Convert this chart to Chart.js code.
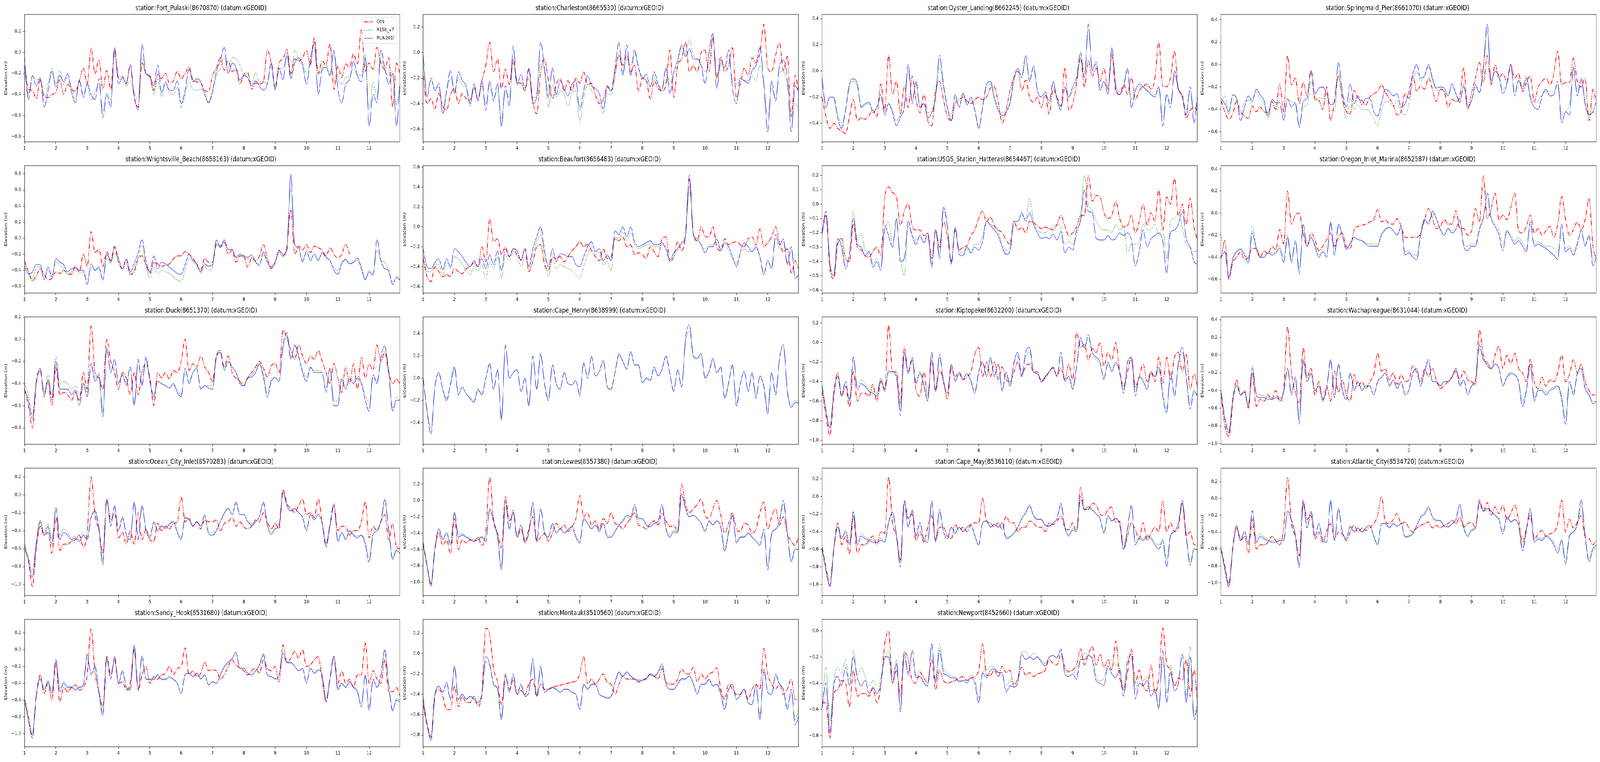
<!DOCTYPE html>
<html>
<head>
<meta charset="utf-8">
<title>Station elevation comparison</title>
<script src="https://cdn.jsdelivr.net/npm/chart.js@4.4.1/dist/chart.umd.min.js"></script>
<style>
  html, body { margin: 0; padding: 0; background: #fff; overflow: hidden; }
  #sheet { position: absolute; left: 0; top: 0; width: 5150px; height: 1950px; transform-origin: 0 0; }
  #sheet canvas { position: absolute; }
</style>
</head>
<body>
<div id="sheet"></div>
<script>
// sample times, 8 per unit plus the right edge, shared by every station
const dayGrid = [1,1.125,1.25,1.375,1.5,1.625,1.75,1.875, 2,2.125,2.25,2.375,2.5,2.625,2.75,2.875, 3,3.125,3.25,3.375,3.5,3.625,3.75,3.875, 4,4.125,4.25,4.375,4.5,4.625,4.75,4.875, 5,5.125,5.25,5.375,5.5,5.625,5.75,5.875, 6,6.125,6.25,6.375,6.5,6.625,6.75,6.875, 7,7.125,7.25,7.375,7.5,7.625,7.75,7.875, 8,8.125,8.25,8.375,8.5,8.625,8.75,8.875, 9,9.125,9.25,9.375,9.5,9.625,9.75,9.875, 10,10.125,10.25,10.375,10.5,10.625,10.75,10.875, 11,11.125,11.25,11.375,11.5,11.625,11.75,11.875, 12,12.125,12.25,12.375,12.5,12.625,12.75,12.875, 12.98];
const xTicks = [1,2,3,4,5,6,7,8,9,10,11,12];

// Fort_Pulaski
const fortPulaskiObs = [-0.13,-0.35,-0.36,-0.44,-0.26,-0.41,-0.43,-0.40,-0.38,-0.26,-0.40,-0.30,-0.35,-0.37,-0.27,-0.15,-0.30,0.04,-0.20,-0.07,-0.35,-0.17,-0.35,0.02,-0.24,-0.23,-0.30,-0.12,-0.42,-0.52,-0.10,-0.20,-0.23,-0.36,-0.21,-0.25,-0.20,-0.29,-0.27,-0.18,-0.25,-0.20,-0.14,-0.26,-0.28,-0.29,-0.36,-0.37,-0.22,-0.15,-0.05,-0.17,-0.08,-0.18,-0.16,-0.30,-0.21,-0.19,-0.35,-0.29,-0.30,-0.28,0.02,-0.10,-0.33,-0.10,-0.06,0.03,-0.20,-0.06,-0.08,-0.05,0.02,-0.12,0.14,-0.20,-0.08,-0.12,0.08,-0.35,-0.13,-0.24,-0.11,-0.14,-0.01,-0.11,0.22,-0.18,-0.10,-0.16,0.05,-0.10,-0.16,-0.05,-0.52,-0.10,-0.20];
const fortPulaskiR15b = [-0.18,-0.40,-0.22,-0.26,-0.26,-0.45,-0.30,-0.15,-0.30,-0.17,-0.30,-0.24,-0.33,-0.45,-0.28,-0.40,-0.30,-0.45,-0.38,-0.30,-0.55,-0.38,-0.45,-0.02,-0.25,-0.26,-0.32,-0.27,-0.38,-0.45,-0.05,-0.20,-0.24,-0.40,-0.25,-0.42,-0.30,-0.38,-0.40,-0.33,-0.53,-0.40,-0.28,-0.35,-0.36,-0.35,-0.38,-0.47,-0.35,-0.23,-0.15,-0.05,-0.15,-0.05,-0.06,-0.12,-0.22,-0.20,-0.30,-0.19,-0.28,-0.28,-0.30,-0.10,-0.33,-0.16,-0.15,-0.05,-0.22,0.02,-0.06,-0.10,-0.20,-0.10,0.08,-0.22,-0.14,-0.10,-0.22,0.00,-0.25,-0.30,-0.24,-0.23,-0.15,-0.22,-0.22,-0.02,-0.55,-0.28,-0.42,-0.05,-0.17,-0.22,-0.18,-0.50,-0.30];
const fortPulaskiRun201 = [-0.05,-0.45,-0.22,-0.32,-0.24,-0.52,-0.37,-0.18,-0.33,-0.22,-0.28,-0.20,-0.38,-0.48,-0.26,-0.43,-0.30,-0.40,-0.45,-0.25,-0.62,-0.40,-0.52,0.05,-0.30,-0.24,-0.29,-0.12,-0.42,-0.55,0.08,-0.20,-0.22,-0.32,-0.12,-0.38,-0.28,-0.36,-0.36,-0.27,-0.49,-0.36,-0.16,-0.28,-0.25,-0.28,-0.40,-0.48,-0.38,-0.18,-0.08,0.05,-0.20,-0.10,-0.14,-0.26,-0.22,-0.24,-0.32,-0.27,-0.32,-0.36,-0.30,-0.10,-0.36,-0.15,-0.26,0.00,-0.25,-0.10,-0.05,-0.12,-0.30,-0.06,0.10,-0.40,-0.16,-0.14,-0.22,0.02,-0.35,-0.48,-0.30,-0.26,-0.08,-0.22,-0.28,-0.05,-0.70,-0.40,-0.48,0.02,-0.15,-0.30,-0.20,-0.70,-0.32];

// Charleston
const charlestonObs = [-0.18,-0.40,-0.36,-0.44,-0.32,-0.42,-0.45,-0.33,-0.28,-0.40,-0.32,-0.36,-0.37,-0.27,-0.37,-0.22,-0.10,0.08,-0.15,-0.05,-0.28,-0.13,-0.25,-0.05,-0.23,-0.24,-0.30,-0.13,-0.38,-0.48,-0.15,-0.05,-0.22,-0.36,-0.25,-0.20,-0.30,-0.22,-0.30,-0.20,-0.24,-0.15,-0.25,-0.24,-0.33,-0.40,-0.37,-0.26,-0.30,-0.15,-0.02,-0.10,-0.02,-0.15,-0.10,-0.30,-0.20,-0.22,-0.36,-0.22,-0.28,-0.30,-0.25,0.02,-0.35,-0.10,-0.05,0.08,-0.15,-0.10,-0.15,0.00,0.02,-0.15,0.12,-0.20,-0.03,-0.15,-0.10,0.04,-0.35,-0.25,-0.12,-0.18,-0.04,-0.08,0.00,0.22,-0.12,-0.15,-0.02,0.08,-0.14,-0.03,-0.50,-0.18,-0.30];
const charlestonR15b = [-0.10,-0.30,-0.22,-0.28,-0.27,-0.42,-0.30,-0.20,-0.30,-0.20,-0.26,-0.28,-0.42,-0.28,-0.36,-0.26,-0.40,-0.25,-0.35,-0.30,-0.52,-0.30,-0.35,-0.08,-0.25,-0.22,-0.30,-0.20,-0.35,-0.35,-0.05,-0.15,-0.43,-0.25,-0.35,-0.30,-0.33,-0.42,-0.32,-0.30,-0.55,-0.36,-0.25,-0.30,-0.35,-0.38,-0.48,-0.32,-0.33,-0.20,-0.02,-0.15,-0.05,-0.10,0.00,-0.12,-0.20,-0.22,-0.26,-0.20,-0.25,-0.28,-0.12,-0.25,-0.15,-0.10,0.05,0.00,0.10,-0.02,-0.05,-0.10,-0.15,-0.05,0.10,-0.20,-0.10,-0.12,-0.05,-0.22,-0.25,-0.20,-0.22,-0.22,-0.18,-0.22,-0.10,-0.25,-0.50,-0.28,-0.36,-0.15,-0.15,-0.25,-0.50,-0.40,-0.45];
const charlestonRun201 = [-0.02,-0.35,-0.20,-0.30,-0.24,-0.48,-0.30,-0.14,-0.32,-0.15,-0.22,-0.26,-0.40,-0.24,-0.38,-0.22,-0.45,-0.22,-0.38,-0.24,-0.58,-0.26,-0.42,0.05,-0.25,-0.17,-0.28,-0.12,-0.40,-0.34,0.08,-0.12,-0.35,-0.12,-0.33,-0.22,-0.28,-0.34,-0.25,-0.22,-0.45,-0.30,-0.18,-0.26,-0.28,-0.32,-0.44,-0.27,-0.30,-0.12,0.08,-0.18,0.06,-0.18,0.02,-0.12,-0.20,-0.17,-0.27,-0.15,-0.25,-0.30,-0.12,-0.32,-0.16,-0.06,0.06,-0.03,0.03,-0.05,-0.05,-0.10,-0.24,0.00,0.15,-0.28,-0.06,-0.12,0.02,-0.28,-0.40,-0.20,-0.22,-0.24,-0.14,-0.10,0.04,-0.25,-0.62,-0.22,-0.38,-0.10,-0.06,-0.20,-0.62,-0.26,-0.30];

// Oyster_Landing
const oysterLandingObs = [-0.20,-0.35,-0.44,-0.40,-0.44,-0.46,-0.48,-0.35,-0.22,-0.38,-0.36,-0.37,-0.34,-0.30,-0.35,-0.10,-0.30,0.12,-0.18,-0.08,-0.33,-0.12,-0.28,-0.04,-0.22,-0.32,-0.18,-0.38,-0.42,-0.15,-0.08,-0.22,-0.35,-0.38,-0.25,-0.22,-0.20,-0.23,-0.25,-0.22,-0.20,-0.22,-0.20,-0.13,-0.12,-0.24,-0.40,-0.30,-0.15,-0.05,0.00,-0.15,-0.07,-0.20,-0.24,-0.20,-0.28,-0.18,-0.33,-0.14,-0.20,-0.27,0.02,-0.30,-0.25,-0.10,0.10,-0.12,0.08,-0.04,0.02,-0.08,0.02,-0.14,0.12,-0.15,-0.18,-0.10,-0.18,-0.05,-0.22,-0.15,-0.12,-0.10,-0.14,-0.06,0.22,-0.12,-0.12,-0.05,0.15,-0.14,-0.18,-0.36,-0.30,-0.28,-0.30];
const oysterLandingR15b = [-0.10,-0.25,-0.20,-0.22,-0.33,-0.40,-0.30,-0.12,-0.08,-0.12,-0.27,-0.26,-0.25,-0.30,-0.28,-0.20,-0.32,-0.25,-0.30,-0.38,-0.33,-0.28,0.00,-0.22,-0.10,-0.27,-0.25,-0.32,-0.30,-0.20,0.05,-0.12,-0.28,-0.33,-0.20,-0.27,-0.18,-0.26,-0.22,-0.30,-0.42,-0.28,-0.12,-0.10,-0.22,-0.30,-0.32,-0.30,-0.25,-0.08,0.00,-0.05,0.08,-0.06,0.02,-0.15,-0.20,-0.16,-0.23,-0.10,-0.22,-0.28,-0.14,-0.20,-0.15,-0.08,0.10,-0.05,0.32,0.02,0.05,-0.12,-0.08,-0.15,0.14,-0.10,-0.16,-0.12,0.00,-0.22,-0.15,-0.12,-0.13,-0.15,-0.16,-0.18,-0.12,-0.35,-0.18,-0.25,-0.03,-0.15,-0.20,-0.30,-0.15,-0.32,-0.22];
const oysterLandingRun201 = [-0.05,-0.28,-0.20,-0.20,-0.36,-0.44,-0.30,-0.10,-0.06,-0.10,-0.28,-0.25,-0.24,-0.32,-0.28,-0.18,-0.34,-0.25,-0.32,-0.42,-0.35,-0.28,0.05,-0.25,-0.08,-0.28,-0.25,-0.36,-0.32,-0.20,0.12,-0.10,-0.28,-0.38,-0.18,-0.28,-0.17,-0.26,-0.20,-0.30,-0.44,-0.28,-0.10,-0.08,-0.20,-0.30,-0.34,-0.32,-0.24,-0.05,0.02,-0.05,0.12,-0.08,0.04,-0.15,-0.20,-0.16,-0.25,-0.08,-0.22,-0.30,-0.12,-0.20,-0.12,-0.05,0.14,-0.05,0.36,0.00,0.07,-0.15,-0.08,-0.18,0.18,-0.12,-0.18,-0.12,0.02,-0.28,-0.15,-0.10,-0.12,-0.15,-0.18,-0.20,-0.12,-0.42,-0.18,-0.28,0.00,-0.14,-0.20,-0.34,-0.12,-0.40,-0.20];

// Springmaid_Pier
const springmaidObs = [-0.32,-0.42,-0.49,-0.44,-0.33,-0.42,-0.46,-0.48,-0.37,-0.42,-0.38,-0.42,-0.43,-0.33,-0.40,-0.17,-0.42,0.08,-0.18,-0.12,-0.35,-0.16,-0.28,-0.06,-0.30,-0.32,-0.40,-0.20,-0.50,-0.32,-0.10,-0.30,-0.42,-0.44,-0.23,-0.30,-0.32,-0.36,-0.29,-0.26,-0.24,-0.18,-0.25,-0.30,-0.36,-0.45,-0.42,-0.26,-0.30,-0.10,-0.24,-0.19,-0.22,-0.12,-0.22,-0.33,-0.22,-0.24,-0.38,-0.31,-0.33,-0.28,-0.03,-0.40,-0.25,-0.12,0.02,-0.16,0.08,-0.18,0.00,-0.12,-0.08,-0.15,0.00,-0.12,-0.08,-0.24,-0.16,-0.10,-0.33,-0.20,-0.15,-0.12,-0.18,-0.08,0.12,-0.18,-0.16,-0.16,0.06,-0.15,-0.20,-0.12,-0.50,-0.22,-0.33];
const springmaidR15b = [-0.35,-0.28,-0.45,-0.27,-0.32,-0.45,-0.33,-0.32,-0.30,-0.25,-0.31,-0.35,-0.48,-0.36,-0.40,-0.38,-0.45,-0.32,-0.33,-0.36,-0.54,-0.38,-0.36,-0.15,-0.32,-0.30,-0.30,-0.32,-0.40,-0.42,-0.08,-0.30,-0.48,-0.30,-0.40,-0.36,-0.40,-0.40,-0.42,-0.48,-0.55,-0.40,-0.33,-0.33,-0.38,-0.32,-0.42,-0.45,-0.35,-0.15,-0.06,-0.15,-0.10,-0.02,-0.14,-0.23,-0.23,-0.24,-0.28,-0.20,-0.26,-0.32,-0.20,-0.36,-0.32,-0.20,-0.25,-0.05,0.30,-0.15,-0.06,-0.12,-0.22,-0.16,-0.02,-0.24,-0.14,-0.20,-0.10,-0.28,-0.34,-0.32,-0.27,-0.24,-0.24,-0.24,-0.18,-0.45,-0.42,-0.35,-0.08,-0.25,-0.14,-0.32,-0.45,-0.42,-0.45];
const springmaidRun201 = [-0.30,-0.35,-0.42,-0.27,-0.30,-0.50,-0.38,-0.28,-0.33,-0.22,-0.27,-0.32,-0.46,-0.31,-0.34,-0.34,-0.50,-0.30,-0.38,-0.34,-0.56,-0.33,-0.30,-0.05,-0.26,-0.21,-0.20,-0.26,-0.36,-0.33,0.02,-0.24,-0.38,-0.17,-0.35,-0.28,-0.36,-0.30,-0.30,-0.42,-0.46,-0.34,-0.22,-0.24,-0.28,-0.26,-0.38,-0.35,-0.24,-0.08,0.00,-0.12,-0.10,0.00,-0.12,-0.21,-0.20,-0.21,-0.28,-0.17,-0.26,-0.34,-0.18,-0.38,-0.32,-0.18,-0.25,-0.02,0.36,-0.15,-0.06,-0.10,-0.26,-0.18,0.00,-0.28,-0.14,-0.22,-0.12,-0.30,-0.38,-0.40,-0.28,-0.22,-0.28,-0.27,-0.15,-0.52,-0.42,-0.45,-0.02,-0.28,-0.12,-0.36,-0.45,-0.42,-0.33];

// Wrightsville_Beach (observations stop after day 11.4)
const wrightsvilleObs = [-0.28,-0.42,-0.53,-0.47,-0.38,-0.45,-0.52,-0.50,-0.42,-0.44,-0.40,-0.44,-0.45,-0.35,-0.42,-0.20,-0.35,0.08,-0.18,-0.14,-0.35,-0.17,-0.28,-0.10,-0.30,-0.38,-0.26,-0.45,-0.42,-0.25,-0.22,-0.33,-0.44,-0.30,-0.32,-0.35,-0.34,-0.32,-0.26,-0.22,-0.22,-0.17,-0.20,-0.25,-0.33,-0.40,-0.25,-0.30,-0.30,-0.08,-0.10,-0.05,-0.20,-0.15,-0.30,-0.22,-0.23,-0.36,-0.25,-0.28,-0.22,-0.08,-0.25,-0.38,-0.30,-0.15,-0.22,-0.10,0.35,-0.20,-0.10,-0.15,-0.08,-0.18,-0.10,-0.12,-0.15,-0.22,-0.12,-0.20,-0.25,-0.20,-0.08,-0.20,null,null,null,null,null,null,null,null,null,null,null,null,null];
const wrightsvilleR15b = [-0.32,-0.42,-0.50,-0.36,-0.36,-0.50,-0.40,-0.48,-0.30,-0.34,-0.38,-0.45,-0.42,-0.40,-0.44,-0.42,-0.52,-0.36,-0.40,-0.38,-0.52,-0.25,-0.32,-0.18,-0.30,-0.40,-0.32,-0.45,-0.38,-0.24,-0.08,-0.34,-0.50,-0.36,-0.45,-0.40,-0.42,-0.44,-0.48,-0.52,-0.54,-0.40,-0.25,-0.30,-0.35,-0.44,-0.36,-0.40,-0.36,-0.06,-0.12,-0.04,-0.14,-0.14,-0.24,-0.22,-0.24,-0.26,-0.24,-0.30,-0.32,-0.20,-0.30,-0.36,-0.30,-0.18,-0.24,-0.12,0.62,-0.08,-0.12,-0.28,-0.18,-0.25,-0.20,-0.26,-0.20,-0.24,-0.28,-0.36,-0.40,-0.30,-0.28,-0.32,-0.30,-0.28,-0.35,-0.50,-0.40,-0.45,-0.15,-0.28,-0.30,-0.42,-0.55,-0.50,-0.52];
const wrightsvilleRun201 = [-0.35,-0.45,-0.42,-0.33,-0.33,-0.52,-0.36,-0.48,-0.25,-0.30,-0.33,-0.42,-0.38,-0.37,-0.40,-0.40,-0.58,-0.32,-0.40,-0.36,-0.52,-0.20,-0.30,-0.12,-0.25,-0.38,-0.26,-0.42,-0.32,-0.18,-0.02,-0.28,-0.42,-0.22,-0.38,-0.30,-0.32,-0.36,-0.40,-0.44,-0.45,-0.33,-0.20,-0.28,-0.32,-0.42,-0.32,-0.35,-0.33,-0.02,-0.12,-0.02,-0.14,-0.14,-0.24,-0.20,-0.22,-0.24,-0.21,-0.30,-0.34,-0.17,-0.30,-0.36,-0.30,-0.16,-0.20,-0.15,0.80,-0.08,-0.12,-0.30,-0.16,-0.28,-0.20,-0.28,-0.18,-0.24,-0.28,-0.40,-0.45,-0.32,-0.26,-0.32,-0.30,-0.25,-0.38,-0.52,-0.42,-0.46,-0.02,-0.28,-0.38,-0.40,-0.58,-0.48,-0.52];

// Beaufort
const beaufortObs = [-0.32,-0.50,-0.55,-0.40,-0.45,-0.50,-0.48,-0.50,-0.42,-0.45,-0.47,-0.42,-0.40,-0.36,-0.40,-0.20,-0.35,0.08,-0.15,-0.12,-0.28,-0.20,-0.30,-0.22,-0.28,-0.33,-0.22,-0.45,-0.35,-0.20,-0.18,-0.38,-0.44,-0.30,-0.32,-0.30,-0.35,-0.30,-0.24,-0.20,-0.15,-0.20,-0.18,-0.24,-0.30,-0.34,-0.22,-0.32,-0.30,-0.12,-0.14,-0.10,-0.20,-0.18,-0.28,-0.26,-0.28,-0.32,-0.20,-0.25,-0.30,-0.12,-0.10,-0.35,-0.30,-0.15,-0.24,-0.08,0.48,-0.08,-0.14,0.00,-0.10,-0.10,0.00,-0.20,-0.24,-0.12,-0.18,-0.16,-0.15,-0.18,-0.20,-0.12,-0.10,-0.18,-0.02,-0.20,-0.16,-0.10,0.00,-0.16,-0.25,-0.22,-0.46,-0.34,-0.42];
const beaufortR15b = [-0.28,-0.45,-0.45,-0.38,-0.38,-0.48,-0.35,-0.42,-0.30,-0.32,-0.38,-0.44,-0.48,-0.40,-0.44,-0.38,-0.52,-0.35,-0.42,-0.30,-0.52,-0.28,-0.34,-0.25,-0.30,-0.40,-0.30,-0.42,-0.28,-0.15,-0.08,-0.30,-0.50,-0.32,-0.42,-0.38,-0.40,-0.42,-0.44,-0.48,-0.52,-0.40,-0.28,-0.20,-0.28,-0.25,-0.38,-0.35,-0.44,-0.10,-0.12,-0.05,-0.14,-0.06,-0.18,-0.22,-0.20,-0.18,-0.18,-0.20,-0.20,-0.18,-0.22,-0.32,-0.30,-0.24,-0.18,-0.10,0.40,-0.06,-0.14,-0.18,-0.22,-0.18,-0.18,-0.12,-0.22,-0.18,-0.24,-0.32,-0.36,-0.28,-0.22,-0.25,-0.25,-0.22,-0.30,-0.46,-0.34,-0.40,-0.12,-0.22,-0.15,-0.36,-0.22,-0.50,-0.50];
const beaufortRun201 = [-0.22,-0.40,-0.42,-0.36,-0.32,-0.43,-0.32,-0.40,-0.22,-0.25,-0.30,-0.36,-0.40,-0.34,-0.40,-0.32,-0.42,-0.28,-0.38,-0.24,-0.44,-0.22,-0.30,-0.22,-0.24,-0.34,-0.22,-0.40,-0.22,-0.10,0.00,-0.24,-0.40,-0.22,-0.35,-0.27,-0.28,-0.30,-0.30,-0.38,-0.40,-0.30,-0.20,-0.15,-0.25,-0.22,-0.34,-0.28,-0.34,-0.04,-0.08,0.00,-0.10,0.00,-0.15,-0.20,-0.18,-0.16,-0.14,-0.18,-0.18,-0.16,-0.22,-0.34,-0.26,-0.22,-0.16,-0.08,0.52,-0.08,-0.12,-0.18,-0.26,-0.20,-0.20,-0.12,-0.24,-0.16,-0.20,-0.30,-0.40,-0.25,-0.16,-0.20,-0.25,-0.20,-0.30,-0.48,-0.34,-0.42,-0.08,-0.18,-0.12,-0.38,-0.20,-0.52,-0.48];

// USGS_Station_Hatteras
const hatterasObs = [-0.20,-0.08,-0.45,-0.52,-0.28,-0.24,-0.38,-0.40,-0.14,-0.30,-0.32,-0.36,-0.37,-0.33,-0.30,-0.36,0.05,0.12,0.08,0.05,-0.15,-0.05,0.00,-0.15,-0.18,-0.18,-0.22,-0.20,-0.38,-0.18,-0.30,-0.12,-0.22,-0.40,-0.18,-0.32,-0.30,-0.29,-0.22,-0.18,-0.10,-0.05,-0.12,-0.09,-0.15,-0.18,-0.20,-0.25,-0.28,-0.12,-0.18,-0.16,-0.20,-0.12,-0.13,-0.15,-0.17,-0.16,-0.17,-0.18,-0.14,-0.08,-0.15,-0.22,-0.20,-0.16,-0.08,-0.08,0.20,0.02,0.06,0.05,-0.06,-0.10,-0.08,0.02,-0.10,-0.16,-0.15,-0.08,-0.20,-0.12,0.00,-0.15,-0.06,-0.12,0.10,-0.18,0.05,0.00,0.18,-0.08,0.00,-0.14,0.04,-0.16,-0.25];
const hatterasR15b = [-0.22,-0.05,-0.40,-0.48,-0.25,-0.28,-0.42,-0.35,-0.05,-0.25,-0.20,-0.32,-0.33,-0.42,-0.38,-0.44,-0.20,-0.12,-0.28,-0.15,-0.38,-0.50,-0.15,-0.22,-0.25,-0.22,-0.27,-0.22,-0.42,-0.18,-0.35,-0.05,-0.15,-0.40,-0.18,-0.33,-0.34,-0.30,-0.32,-0.28,-0.28,-0.22,-0.12,-0.14,-0.16,-0.20,-0.28,-0.32,-0.30,-0.12,-0.12,-0.08,-0.10,0.04,-0.12,-0.18,-0.20,-0.20,-0.18,-0.16,-0.14,-0.16,-0.28,-0.26,-0.28,-0.22,-0.08,0.20,0.00,-0.04,-0.12,-0.16,-0.18,-0.18,-0.20,-0.14,-0.18,-0.16,-0.34,-0.28,-0.28,-0.26,-0.14,-0.18,-0.18,-0.14,-0.22,-0.16,-0.38,-0.12,-0.10,-0.06,-0.16,-0.28,-0.30,-0.33,-0.33];
const hatterasRun201 = [-0.20,-0.05,-0.42,-0.50,-0.24,-0.30,-0.45,-0.35,-0.10,-0.28,-0.30,-0.36,-0.33,-0.44,-0.40,-0.46,-0.15,-0.22,-0.30,-0.10,-0.40,-0.38,-0.12,-0.22,-0.28,-0.22,-0.27,-0.20,-0.44,-0.18,-0.38,-0.02,-0.15,-0.42,-0.16,-0.35,-0.36,-0.30,-0.34,-0.30,-0.32,-0.26,-0.12,-0.15,-0.18,-0.22,-0.30,-0.35,-0.33,-0.12,-0.12,-0.06,-0.12,-0.06,-0.14,-0.20,-0.24,-0.23,-0.24,-0.21,-0.25,-0.19,-0.34,-0.30,-0.32,-0.18,-0.12,0.10,-0.05,-0.06,-0.24,-0.25,-0.25,-0.22,-0.25,-0.24,-0.20,-0.22,-0.20,-0.25,-0.43,-0.33,-0.18,-0.30,-0.24,-0.22,-0.20,-0.26,-0.48,-0.20,-0.18,-0.14,-0.05,-0.24,-0.30,-0.40,-0.42];

// Oregon_Inlet_Marina
const oregonInletObs = [-0.42,-0.25,-0.60,-0.45,-0.40,-0.35,-0.42,-0.40,-0.32,-0.32,-0.40,-0.34,-0.37,-0.30,-0.33,-0.15,-0.28,0.20,-0.10,-0.02,0.00,-0.18,-0.30,-0.18,-0.24,-0.34,-0.30,-0.24,-0.18,-0.30,-0.22,-0.18,-0.30,-0.32,-0.15,-0.12,-0.11,-0.10,-0.08,-0.06,0.03,-0.08,-0.06,-0.10,-0.10,-0.05,-0.12,-0.22,-0.22,-0.22,-0.22,-0.18,-0.06,0.04,-0.05,-0.14,-0.12,-0.06,-0.10,-0.10,0.02,-0.14,-0.14,-0.20,-0.16,0.04,-0.08,0.34,-0.05,0.04,0.18,-0.06,-0.02,-0.06,0.05,0.18,-0.16,-0.18,-0.12,-0.02,-0.18,-0.14,-0.20,-0.16,-0.12,-0.22,-0.10,0.15,-0.06,-0.20,-0.15,-0.08,-0.15,-0.06,0.13,-0.30,-0.42];
const oregonInletR15b = [-0.20,-0.35,-0.55,-0.40,-0.33,-0.32,-0.36,-0.42,-0.12,-0.30,-0.36,-0.38,-0.35,-0.36,-0.35,-0.30,-0.40,-0.20,-0.42,-0.25,-0.50,-0.15,-0.30,-0.22,-0.28,-0.38,-0.33,-0.38,-0.10,-0.36,-0.12,-0.20,-0.32,-0.27,-0.22,-0.24,-0.25,-0.27,-0.28,-0.28,-0.28,-0.18,-0.14,-0.13,-0.16,-0.20,-0.14,-0.35,-0.34,-0.38,-0.38,-0.18,-0.05,-0.08,0.00,-0.05,-0.14,-0.18,-0.14,-0.16,-0.14,-0.08,-0.28,-0.30,-0.28,-0.28,-0.14,-0.02,0.10,-0.04,-0.10,-0.16,-0.28,-0.16,-0.20,-0.25,-0.22,-0.27,-0.32,-0.10,-0.28,-0.26,-0.28,-0.30,-0.30,-0.32,-0.36,-0.18,-0.32,-0.30,-0.35,-0.26,-0.18,-0.28,-0.22,-0.42,-0.38];
const oregonInletRun201 = [-0.40,-0.35,-0.58,-0.42,-0.35,-0.33,-0.38,-0.45,-0.18,-0.32,-0.40,-0.40,-0.36,-0.38,-0.36,-0.32,-0.45,-0.22,-0.45,-0.25,-0.55,-0.10,-0.30,-0.22,-0.30,-0.40,-0.35,-0.40,-0.08,-0.38,-0.10,-0.20,-0.33,-0.28,-0.22,-0.24,-0.25,-0.28,-0.30,-0.30,-0.30,-0.20,-0.15,-0.13,-0.16,-0.20,-0.12,-0.38,-0.36,-0.40,-0.42,-0.20,-0.06,-0.10,0.02,-0.05,-0.15,-0.20,-0.14,-0.18,-0.15,-0.06,-0.30,-0.34,-0.30,-0.30,-0.15,-0.05,0.18,-0.05,-0.12,-0.20,-0.34,-0.16,-0.22,-0.28,-0.25,-0.30,-0.35,-0.08,-0.30,-0.28,-0.30,-0.32,-0.35,-0.38,-0.42,-0.10,-0.35,-0.32,-0.38,-0.28,-0.15,-0.30,-0.20,-0.48,-0.40];

// Duck
const duckObs = [-0.45,-0.60,-0.80,-0.40,-0.28,-0.50,-0.38,-0.60,-0.25,-0.50,-0.48,-0.50,-0.55,-0.48,-0.55,-0.30,-0.45,0.12,-0.30,-0.35,-0.45,0.00,-0.20,-0.30,-0.45,-0.30,-0.35,-0.50,-0.30,-0.50,-0.30,-0.22,-0.35,-0.60,-0.30,-0.35,-0.30,-0.36,-0.28,-0.30,-0.20,0.00,-0.28,-0.22,-0.25,-0.15,-0.25,-0.30,-0.38,-0.15,-0.12,-0.25,-0.15,-0.30,-0.35,-0.38,-0.42,-0.35,-0.30,-0.25,-0.20,-0.26,-0.34,-0.24,-0.22,-0.30,0.08,0.02,-0.10,-0.18,-0.05,-0.15,-0.22,-0.15,-0.18,-0.10,-0.20,-0.30,-0.40,-0.22,-0.35,-0.48,-0.25,-0.40,-0.22,-0.45,-0.16,-0.35,-0.22,-0.28,-0.05,-0.20,-0.12,-0.30,-0.40,-0.36,-0.40];
const duckR15b = [-0.40,-0.50,-0.68,-0.38,-0.28,-0.48,-0.32,-0.50,-0.15,-0.40,-0.38,-0.40,-0.45,-0.42,-0.55,-0.38,-0.48,-0.22,-0.35,-0.30,-0.65,-0.10,-0.28,-0.20,-0.38,-0.32,-0.40,-0.25,-0.58,-0.20,-0.40,-0.18,-0.38,-0.50,-0.38,-0.40,-0.42,-0.44,-0.40,-0.46,-0.50,-0.28,-0.38,-0.30,-0.28,-0.44,-0.42,-0.42,-0.42,-0.16,-0.12,-0.26,-0.20,-0.25,-0.30,-0.38,-0.40,-0.34,-0.32,-0.28,-0.22,-0.32,-0.48,-0.36,-0.34,-0.36,-0.08,0.02,-0.16,-0.06,-0.16,-0.28,-0.34,-0.26,-0.28,-0.28,-0.30,-0.44,-0.26,-0.56,-0.55,-0.35,-0.42,-0.34,-0.38,-0.33,-0.38,-0.50,-0.58,-0.32,-0.38,-0.20,-0.10,-0.28,-0.62,-0.52,-0.55];
const duckRun201 = [-0.45,-0.55,-0.72,-0.38,-0.26,-0.52,-0.36,-0.55,-0.20,-0.45,-0.45,-0.45,-0.50,-0.46,-0.60,-0.40,-0.52,-0.22,-0.38,-0.32,-0.70,-0.08,-0.30,-0.18,-0.40,-0.32,-0.42,-0.25,-0.60,-0.18,-0.42,-0.16,-0.38,-0.52,-0.38,-0.40,-0.42,-0.44,-0.40,-0.48,-0.52,-0.26,-0.40,-0.30,-0.26,-0.45,-0.42,-0.44,-0.45,-0.15,-0.10,-0.28,-0.20,-0.25,-0.30,-0.40,-0.42,-0.35,-0.34,-0.30,-0.22,-0.34,-0.52,-0.38,-0.35,-0.38,-0.06,0.06,-0.18,-0.05,-0.15,-0.30,-0.38,-0.25,-0.30,-0.30,-0.30,-0.48,-0.26,-0.60,-0.60,-0.36,-0.45,-0.36,-0.40,-0.35,-0.40,-0.55,-0.65,-0.32,-0.40,-0.16,-0.06,-0.30,-0.65,-0.55,-0.55];

// Cape_Henry (no observations)
const capeHenryObs = [];
const capeHenryR15b = [0.00,-0.28,-0.45,-0.08,0.04,-0.10,-0.18,-0.06,0.08,-0.14,-0.08,-0.14,-0.17,-0.20,-0.10,-0.14,0.00,0.12,-0.10,0.07,-0.35,0.28,0.00,0.05,0.07,-0.12,0.00,-0.23,0.19,-0.10,0.21,-0.05,-0.18,0.11,-0.05,-0.09,0.05,-0.05,-0.06,-0.03,-0.14,0.13,0.00,0.19,0.02,0.06,0.15,-0.07,-0.09,0.05,0.20,0.15,0.08,0.22,0.12,0.11,-0.04,0.00,-0.02,0.09,0.02,0.08,0.19,0.04,-0.11,0.07,-0.07,0.33,0.42,0.19,0.17,0.20,0.01,0.06,0.16,0.05,0.09,-0.16,-0.04,0.11,-0.22,-0.05,0.06,-0.11,0.05,-0.16,0.02,-0.07,-0.28,0.05,-0.13,0.17,0.28,-0.10,-0.24,-0.20,-0.22];
const capeHenryRun201 = [0.00,-0.30,-0.50,-0.08,0.05,-0.10,-0.20,-0.05,0.10,-0.15,-0.08,-0.14,-0.18,-0.22,-0.10,-0.15,0.00,0.13,-0.10,0.08,-0.38,0.30,0.00,0.05,0.08,-0.12,0.00,-0.25,0.20,-0.10,0.22,-0.05,-0.20,0.12,-0.05,-0.10,0.05,-0.05,-0.06,-0.02,-0.16,0.14,0.00,0.20,0.02,0.06,0.16,-0.08,-0.10,0.05,0.22,0.15,0.08,0.24,0.12,0.12,-0.04,0.00,-0.02,0.10,0.02,0.08,0.20,0.04,-0.12,0.08,-0.08,0.36,0.48,0.20,0.18,0.22,0.00,0.06,0.18,0.05,0.10,-0.18,-0.05,0.12,-0.25,-0.05,0.06,-0.12,0.05,-0.18,0.02,-0.08,-0.32,0.05,-0.15,0.18,0.30,-0.12,-0.26,-0.22,-0.22];

// Kiptopeke
const kiptopekeObs = [-0.50,-0.75,-0.95,-0.55,-0.32,-0.55,-0.45,-0.66,-0.30,-0.60,-0.52,-0.52,-0.55,-0.43,-0.60,-0.40,-0.48,0.18,-0.30,-0.30,-0.62,-0.05,-0.30,-0.18,-0.48,-0.55,-0.30,-0.55,-0.18,-0.50,-0.28,-0.40,-0.58,-0.26,-0.35,-0.30,-0.38,-0.35,-0.30,-0.12,-0.05,-0.35,-0.20,-0.35,-0.20,-0.38,-0.25,-0.38,-0.40,-0.30,-0.20,-0.34,-0.24,-0.22,-0.30,-0.30,-0.40,-0.36,-0.30,-0.26,-0.34,-0.26,-0.38,-0.22,-0.38,0.10,-0.05,-0.02,-0.18,-0.06,-0.10,0.00,-0.24,-0.10,-0.18,0.00,-0.30,-0.45,-0.30,-0.15,-0.45,-0.35,-0.22,-0.40,-0.30,-0.40,-0.15,-0.42,-0.15,-0.38,-0.15,-0.10,-0.30,-0.12,-0.48,-0.32,-0.45];
const kiptopekeR15b = [-0.42,-0.68,-0.85,-0.50,-0.30,-0.52,-0.40,-0.58,-0.14,-0.45,-0.38,-0.42,-0.48,-0.50,-0.52,-0.36,-0.48,-0.28,-0.32,-0.35,-0.70,-0.12,-0.30,-0.18,-0.40,-0.32,-0.42,-0.58,-0.12,-0.48,-0.15,-0.38,-0.50,-0.24,-0.38,-0.32,-0.36,-0.32,-0.38,-0.50,-0.30,-0.22,-0.33,-0.18,-0.33,-0.22,-0.48,-0.30,-0.42,-0.22,-0.14,-0.32,-0.14,-0.10,-0.30,-0.32,-0.38,-0.35,-0.30,-0.26,-0.34,-0.14,-0.38,-0.34,-0.45,-0.25,0.02,-0.06,0.04,-0.10,-0.18,-0.22,-0.35,-0.22,-0.28,-0.22,-0.30,-0.48,-0.22,-0.18,-0.50,-0.35,-0.38,-0.45,-0.32,-0.35,-0.28,-0.50,-0.68,-0.32,-0.52,-0.24,-0.10,-0.35,-0.62,-0.48,-0.55];
const kiptopekeRun201 = [-0.45,-0.70,-0.88,-0.50,-0.35,-0.55,-0.40,-0.60,-0.15,-0.48,-0.42,-0.45,-0.50,-0.52,-0.55,-0.38,-0.50,-0.30,-0.30,-0.35,-0.75,-0.10,-0.32,-0.15,-0.42,-0.30,-0.45,-0.60,-0.10,-0.50,-0.12,-0.40,-0.52,-0.22,-0.40,-0.32,-0.38,-0.32,-0.40,-0.52,-0.30,-0.20,-0.35,-0.15,-0.35,-0.22,-0.50,-0.30,-0.45,-0.20,-0.10,-0.35,-0.10,-0.05,-0.30,-0.32,-0.40,-0.35,-0.30,-0.25,-0.35,-0.10,-0.40,-0.35,-0.48,-0.25,0.05,-0.05,0.08,-0.10,-0.15,-0.20,-0.38,-0.20,-0.30,-0.20,-0.30,-0.52,-0.20,-0.15,-0.55,-0.35,-0.40,-0.48,-0.30,-0.35,-0.25,-0.55,-0.72,-0.30,-0.55,-0.20,-0.05,-0.35,-0.68,-0.50,-0.55];

// Wachapreague
const wachapreagueObs = [-0.45,-0.80,-0.92,-0.55,-0.28,-0.45,-0.40,-0.60,-0.20,-0.58,-0.50,-0.52,-0.45,-0.50,-0.40,-0.52,-0.40,0.32,-0.20,-0.42,-0.55,0.08,-0.25,-0.15,-0.45,-0.30,-0.52,-0.35,-0.52,-0.18,-0.42,-0.28,-0.45,-0.52,-0.22,-0.35,-0.30,-0.38,-0.30,-0.22,0.02,-0.18,-0.16,-0.28,-0.20,-0.33,-0.22,-0.30,-0.28,-0.12,-0.20,-0.30,-0.16,-0.24,-0.15,-0.28,-0.38,-0.34,-0.30,-0.25,-0.18,-0.28,-0.18,-0.28,-0.30,-0.34,0.28,0.00,-0.12,-0.15,0.00,0.10,-0.15,0.00,-0.10,0.02,-0.15,-0.20,-0.30,-0.05,-0.30,-0.38,-0.25,-0.35,-0.28,-0.30,-0.20,0.00,-0.30,-0.22,-0.05,-0.20,-0.10,-0.30,-0.40,-0.45,-0.45];
const wachapreagueR15b = [-0.38,-0.70,-0.85,-0.48,-0.33,-0.45,-0.40,-0.55,-0.12,-0.42,-0.45,-0.46,-0.48,-0.48,-0.46,-0.48,-0.40,-0.15,-0.42,-0.25,-0.72,-0.08,-0.30,-0.22,-0.40,-0.35,-0.48,-0.38,-0.08,-0.45,-0.12,-0.38,-0.48,-0.22,-0.38,-0.30,-0.38,-0.34,-0.34,-0.45,-0.30,-0.25,-0.22,-0.33,-0.28,-0.36,-0.30,-0.42,-0.38,-0.20,-0.16,-0.33,-0.20,-0.08,-0.30,-0.30,-0.34,-0.30,-0.30,-0.24,-0.16,-0.33,-0.28,-0.42,-0.34,-0.28,0.08,-0.06,-0.10,-0.16,-0.12,-0.16,-0.33,-0.25,-0.22,-0.22,-0.30,-0.52,-0.38,-0.12,-0.48,-0.38,-0.38,-0.42,-0.38,-0.36,-0.34,-0.46,-0.70,-0.30,-0.42,-0.22,-0.18,-0.36,-0.44,-0.52,-0.52];
const wachapreagueRun201 = [-0.40,-0.72,-0.88,-0.50,-0.35,-0.45,-0.42,-0.58,-0.15,-0.45,-0.48,-0.48,-0.50,-0.50,-0.48,-0.50,-0.42,-0.15,-0.45,-0.25,-0.78,-0.05,-0.30,-0.20,-0.40,-0.35,-0.50,-0.38,-0.05,-0.48,-0.10,-0.40,-0.50,-0.20,-0.40,-0.30,-0.40,-0.35,-0.35,-0.45,-0.30,-0.25,-0.20,-0.35,-0.28,-0.38,-0.30,-0.45,-0.40,-0.20,-0.15,-0.35,-0.18,-0.05,-0.30,-0.30,-0.35,-0.30,-0.30,-0.24,-0.15,-0.35,-0.28,-0.45,-0.35,-0.28,0.12,-0.05,-0.08,-0.15,-0.10,-0.15,-0.35,-0.25,-0.20,-0.22,-0.30,-0.58,-0.40,-0.10,-0.52,-0.40,-0.40,-0.45,-0.40,-0.38,-0.35,-0.50,-0.78,-0.30,-0.45,-0.20,-0.15,-0.38,-0.45,-0.55,-0.52];

// Ocean_City_Inlet
const oceanCityObs = [-0.55,-0.75,-1.02,-0.60,-0.35,-0.45,-0.42,-0.65,-0.25,-0.62,-0.55,-0.55,-0.52,-0.50,-0.45,-0.58,-0.42,0.20,-0.22,-0.40,-0.65,-0.05,-0.28,-0.20,-0.48,-0.42,-0.55,-0.40,-0.55,-0.20,-0.50,-0.38,-0.50,-0.52,-0.32,-0.40,-0.35,-0.38,-0.32,-0.30,-0.02,-0.30,-0.26,-0.35,-0.30,-0.38,-0.28,-0.30,-0.30,-0.28,-0.40,-0.32,-0.30,-0.25,-0.35,-0.30,-0.36,-0.38,-0.35,-0.28,-0.30,-0.20,-0.30,-0.38,-0.32,-0.38,0.06,-0.10,-0.15,-0.20,-0.12,-0.05,-0.22,-0.20,-0.25,-0.05,-0.30,-0.55,-0.35,-0.12,-0.40,-0.35,-0.35,-0.45,-0.40,-0.40,-0.30,-0.08,-0.48,-0.35,-0.40,-0.30,-0.22,-0.50,-0.32,-0.58,-0.60];
const oceanCityR15b = [-0.55,-0.70,-0.85,-0.52,-0.28,-0.42,-0.32,-0.50,-0.14,-0.45,-0.38,-0.42,-0.48,-0.46,-0.50,-0.42,-0.48,-0.25,-0.20,-0.36,-0.72,-0.06,-0.34,-0.14,-0.40,-0.27,-0.44,-0.48,-0.10,-0.48,-0.14,-0.38,-0.46,-0.32,-0.38,-0.34,-0.36,-0.32,-0.30,-0.40,-0.48,-0.26,-0.28,-0.34,-0.30,-0.34,-0.24,-0.40,-0.42,-0.38,-0.30,-0.22,-0.16,-0.22,-0.10,-0.22,-0.22,-0.30,-0.32,-0.30,-0.24,-0.10,-0.32,-0.42,-0.36,-0.32,0.00,-0.12,-0.18,-0.16,-0.20,-0.25,-0.38,-0.22,-0.27,-0.22,-0.32,-0.54,-0.32,-0.12,-0.50,-0.42,-0.48,-0.40,-0.44,-0.46,-0.45,-0.52,-0.70,-0.42,-0.38,-0.30,-0.10,-0.38,-0.70,-0.60,-0.62];
const oceanCityRun201 = [-0.60,-0.72,-0.92,-0.55,-0.30,-0.45,-0.35,-0.55,-0.15,-0.50,-0.42,-0.45,-0.50,-0.48,-0.52,-0.45,-0.50,-0.25,-0.18,-0.38,-0.78,-0.05,-0.35,-0.12,-0.40,-0.25,-0.45,-0.50,-0.08,-0.50,-0.12,-0.40,-0.48,-0.30,-0.40,-0.35,-0.38,-0.33,-0.30,-0.42,-0.50,-0.25,-0.28,-0.35,-0.30,-0.35,-0.22,-0.43,-0.45,-0.40,-0.30,-0.20,-0.15,-0.22,-0.08,-0.22,-0.22,-0.30,-0.34,-0.30,-0.24,-0.08,-0.34,-0.44,-0.38,-0.34,0.03,-0.12,-0.18,-0.15,-0.20,-0.25,-0.40,-0.22,-0.28,-0.22,-0.32,-0.58,-0.34,-0.10,-0.52,-0.42,-0.50,-0.40,-0.45,-0.48,-0.45,-0.55,-0.75,-0.45,-0.40,-0.30,-0.05,-0.40,-0.72,-0.62,-0.65];

// Lewes
const lewesObs = [-0.52,-0.80,-1.02,-0.60,-0.40,-0.55,-0.48,-0.65,-0.22,-0.60,-0.48,-0.52,-0.48,-0.50,-0.45,-0.55,-0.38,0.28,-0.25,-0.40,-0.58,0.05,-0.25,-0.15,-0.45,-0.35,-0.52,-0.35,-0.20,-0.50,-0.45,-0.40,-0.50,-0.40,-0.28,-0.35,-0.30,-0.38,-0.32,-0.22,0.06,-0.20,-0.15,-0.30,-0.25,-0.35,-0.22,-0.28,-0.15,-0.28,-0.30,-0.35,-0.28,-0.22,-0.15,-0.30,-0.32,-0.35,-0.28,-0.25,-0.30,-0.15,-0.25,-0.32,-0.30,-0.38,0.20,-0.05,-0.15,-0.10,-0.05,0.02,-0.18,-0.22,-0.10,0.00,-0.18,-0.40,-0.28,-0.15,-0.35,-0.38,-0.28,-0.30,-0.40,-0.35,-0.15,-0.02,-0.35,-0.20,-0.10,-0.30,-0.20,-0.40,-0.50,-0.55,-0.45];
const lewesR15b = [-0.50,-0.78,-1.00,-0.58,-0.34,-0.46,-0.38,-0.52,-0.14,-0.42,-0.40,-0.44,-0.46,-0.48,-0.46,-0.44,-0.48,-0.12,-0.26,-0.42,-0.80,-0.02,-0.34,-0.14,-0.44,-0.30,-0.48,-0.40,-0.05,-0.48,-0.12,-0.38,-0.44,-0.30,-0.38,-0.34,-0.38,-0.35,-0.32,-0.43,-0.50,-0.24,-0.28,-0.34,-0.30,-0.36,-0.28,-0.43,-0.43,-0.36,-0.30,-0.26,-0.20,-0.22,-0.08,-0.24,-0.23,-0.30,-0.32,-0.28,-0.25,-0.08,-0.33,-0.42,-0.36,-0.38,0.04,-0.10,-0.20,-0.18,-0.22,-0.28,-0.36,-0.26,-0.29,-0.25,-0.32,-0.58,-0.38,-0.20,-0.50,-0.44,-0.44,-0.40,-0.44,-0.48,-0.52,-0.38,-0.80,-0.42,-0.36,-0.28,-0.05,-0.40,-0.72,-0.58,-0.60];
const lewesRun201 = [-0.55,-0.80,-1.05,-0.60,-0.35,-0.48,-0.40,-0.55,-0.15,-0.45,-0.42,-0.45,-0.48,-0.50,-0.48,-0.45,-0.50,-0.10,-0.25,-0.45,-0.85,0.00,-0.35,-0.12,-0.45,-0.30,-0.50,-0.40,-0.02,-0.50,-0.10,-0.40,-0.45,-0.28,-0.40,-0.35,-0.40,-0.36,-0.32,-0.45,-0.52,-0.22,-0.28,-0.35,-0.30,-0.38,-0.28,-0.45,-0.45,-0.38,-0.30,-0.25,-0.18,-0.20,-0.05,-0.22,-0.22,-0.30,-0.32,-0.28,-0.25,-0.05,-0.35,-0.45,-0.38,-0.40,0.08,-0.10,-0.20,-0.18,-0.22,-0.28,-0.38,-0.25,-0.30,-0.25,-0.32,-0.62,-0.40,-0.18,-0.52,-0.45,-0.45,-0.40,-0.45,-0.50,-0.55,-0.35,-0.85,-0.40,-0.35,-0.25,0.00,-0.40,-0.75,-0.60,-0.60];

// Cape_May
const capeMayObs = [-0.58,-0.80,-1.02,-0.60,-0.30,-0.55,-0.45,-0.65,-0.22,-0.65,-0.55,-0.55,-0.50,-0.45,-0.55,-0.40,-0.42,0.22,-0.30,-0.45,-0.72,-0.05,-0.25,-0.20,-0.50,-0.40,-0.52,-0.35,-0.22,-0.50,-0.35,-0.35,-0.45,-0.48,-0.32,-0.38,-0.35,-0.40,-0.32,-0.30,-0.30,-0.02,-0.28,-0.30,-0.35,-0.30,-0.38,-0.22,-0.30,-0.30,-0.40,-0.35,-0.35,-0.28,-0.30,-0.35,-0.35,-0.40,-0.30,-0.32,-0.28,-0.22,-0.35,-0.38,-0.30,-0.40,0.10,-0.15,-0.15,-0.08,-0.10,-0.20,-0.22,-0.15,-0.12,-0.30,-0.28,-0.60,-0.45,-0.30,-0.38,-0.48,-0.30,-0.50,-0.42,-0.35,-0.40,-0.05,-0.40,-0.30,-0.40,-0.35,-0.08,-0.45,-0.40,-0.55,-0.55];
const capeMayR15b = [-0.55,-0.80,-0.95,-0.58,-0.33,-0.46,-0.38,-0.52,-0.16,-0.50,-0.42,-0.46,-0.48,-0.50,-0.50,-0.48,-0.50,-0.28,-0.20,-0.43,-0.75,-0.08,-0.34,-0.17,-0.44,-0.30,-0.48,-0.50,-0.08,-0.50,-0.17,-0.40,-0.46,-0.35,-0.40,-0.35,-0.39,-0.35,-0.32,-0.44,-0.55,-0.30,-0.28,-0.34,-0.32,-0.35,-0.30,-0.46,-0.45,-0.40,-0.35,-0.26,-0.20,-0.12,-0.22,-0.26,-0.27,-0.33,-0.33,-0.30,-0.25,-0.10,-0.34,-0.43,-0.36,-0.38,-0.04,-0.16,-0.14,-0.16,-0.20,-0.26,-0.40,-0.22,-0.27,-0.26,-0.32,-0.56,-0.36,-0.12,-0.52,-0.46,-0.48,-0.44,-0.46,-0.52,-0.55,-0.48,-0.72,-0.44,-0.40,-0.30,-0.10,-0.44,-0.75,-0.58,-0.62];
const capeMayRun201 = [-0.60,-0.85,-1.02,-0.60,-0.35,-0.48,-0.40,-0.55,-0.18,-0.55,-0.45,-0.48,-0.50,-0.52,-0.52,-0.50,-0.52,-0.30,-0.18,-0.45,-0.80,-0.05,-0.35,-0.15,-0.45,-0.30,-0.50,-0.52,-0.05,-0.52,-0.15,-0.40,-0.48,-0.35,-0.42,-0.35,-0.40,-0.35,-0.32,-0.45,-0.55,-0.30,-0.28,-0.35,-0.32,-0.35,-0.30,-0.48,-0.46,-0.42,-0.35,-0.25,-0.18,-0.10,-0.22,-0.26,-0.26,-0.33,-0.34,-0.30,-0.25,-0.08,-0.35,-0.45,-0.38,-0.40,0.00,-0.15,-0.12,-0.15,-0.20,-0.25,-0.42,-0.22,-0.28,-0.25,-0.32,-0.60,-0.38,-0.10,-0.55,-0.48,-0.50,-0.45,-0.48,-0.55,-0.60,-0.50,-0.80,-0.45,-0.40,-0.30,-0.05,-0.45,-0.78,-0.60,-0.60];

// Atlantic_City
const atlanticCityObs = [-0.60,-0.80,-1.02,-0.60,-0.35,-0.50,-0.45,-0.65,-0.25,-0.60,-0.55,-0.55,-0.52,-0.45,-0.50,-0.55,-0.35,0.25,-0.30,-0.45,-0.68,-0.02,-0.25,-0.20,-0.48,-0.40,-0.52,-0.38,-0.30,-0.48,-0.40,-0.42,-0.50,-0.40,-0.32,-0.40,-0.35,-0.38,-0.35,-0.30,-0.20,0.02,-0.28,-0.30,-0.25,-0.18,-0.30,-0.28,-0.35,-0.40,-0.35,-0.32,-0.30,-0.28,-0.35,-0.32,-0.35,-0.32,-0.30,-0.26,-0.30,-0.22,-0.34,-0.30,-0.28,-0.35,-0.02,-0.15,-0.05,-0.20,-0.10,-0.18,-0.08,-0.25,-0.18,-0.08,-0.25,-0.52,-0.35,-0.20,-0.48,-0.42,-0.38,-0.45,-0.42,-0.40,-0.30,-0.02,-0.40,-0.25,-0.35,-0.28,-0.20,-0.45,-0.48,-0.55,-0.50];
const atlanticCityR15b = [-0.55,-0.82,-1.00,-0.58,-0.32,-0.48,-0.38,-0.52,-0.14,-0.48,-0.42,-0.46,-0.48,-0.50,-0.50,-0.48,-0.48,-0.18,-0.26,-0.42,-0.78,-0.08,-0.34,-0.17,-0.44,-0.30,-0.48,-0.50,-0.05,-0.48,-0.15,-0.40,-0.46,-0.34,-0.39,-0.35,-0.39,-0.35,-0.32,-0.44,-0.54,-0.30,-0.30,-0.34,-0.30,-0.33,-0.30,-0.45,-0.44,-0.40,-0.32,-0.24,-0.20,-0.12,-0.22,-0.26,-0.27,-0.33,-0.33,-0.30,-0.25,-0.10,-0.34,-0.43,-0.36,-0.34,-0.08,-0.16,-0.14,-0.16,-0.21,-0.26,-0.40,-0.22,-0.27,-0.26,-0.32,-0.58,-0.36,-0.14,-0.50,-0.46,-0.48,-0.44,-0.46,-0.52,-0.60,-0.48,-0.72,-0.44,-0.40,-0.32,-0.08,-0.44,-0.72,-0.58,-0.60];
const atlanticCityRun201 = [-0.60,-0.85,-1.05,-0.60,-0.32,-0.50,-0.40,-0.55,-0.15,-0.52,-0.45,-0.48,-0.50,-0.52,-0.52,-0.50,-0.50,-0.15,-0.25,-0.45,-0.82,-0.05,-0.35,-0.15,-0.45,-0.30,-0.50,-0.52,-0.02,-0.50,-0.12,-0.40,-0.48,-0.33,-0.40,-0.35,-0.40,-0.35,-0.32,-0.45,-0.55,-0.30,-0.30,-0.35,-0.30,-0.33,-0.30,-0.46,-0.45,-0.42,-0.32,-0.22,-0.18,-0.10,-0.22,-0.26,-0.26,-0.33,-0.34,-0.30,-0.25,-0.07,-0.35,-0.45,-0.38,-0.35,-0.05,-0.15,-0.12,-0.15,-0.20,-0.25,-0.42,-0.22,-0.28,-0.25,-0.32,-0.62,-0.38,-0.12,-0.52,-0.48,-0.50,-0.45,-0.48,-0.55,-0.65,-0.50,-0.78,-0.45,-0.40,-0.30,-0.02,-0.45,-0.75,-0.60,-0.55];

// Sandy_Hook
const sandyHookObs = [-0.60,-0.80,-1.02,-0.55,-0.30,-0.52,-0.40,-0.60,-0.15,-0.62,-0.45,-0.50,-0.45,-0.42,-0.48,-0.45,-0.30,0.25,-0.28,-0.50,-0.68,-0.08,-0.30,-0.12,-0.40,-0.38,-0.48,-0.40,0.00,-0.48,-0.30,-0.20,-0.40,-0.32,-0.35,-0.30,-0.28,-0.20,-0.30,-0.22,-0.20,0.02,-0.30,-0.25,-0.32,-0.28,-0.15,-0.25,-0.24,-0.25,-0.35,-0.30,-0.20,-0.12,-0.18,-0.22,-0.25,-0.30,-0.25,-0.22,-0.28,-0.12,-0.22,-0.25,-0.20,-0.38,0.06,-0.15,-0.10,-0.02,-0.10,0.00,-0.20,-0.18,-0.12,-0.08,-0.35,-0.62,-0.35,-0.08,-0.40,-0.25,-0.40,-0.35,-0.45,-0.30,-0.30,0.08,-0.40,-0.25,-0.35,-0.40,-0.12,-0.50,-0.50,-0.45,-0.55];
const sandyHookR15b = [-0.55,-0.80,-1.00,-0.55,-0.33,-0.46,-0.36,-0.50,-0.12,-0.46,-0.38,-0.43,-0.44,-0.46,-0.44,-0.42,-0.10,-0.28,-0.22,-0.50,-0.74,-0.12,-0.34,-0.10,-0.40,-0.27,-0.44,-0.46,0.02,-0.46,-0.10,-0.35,-0.36,-0.36,-0.32,-0.36,-0.36,-0.34,-0.36,-0.40,-0.52,-0.30,-0.28,-0.32,-0.28,-0.34,-0.30,-0.42,-0.38,-0.40,-0.30,-0.22,-0.17,-0.12,-0.06,-0.22,-0.22,-0.28,-0.30,-0.25,-0.19,-0.07,-0.30,-0.32,-0.34,-0.30,-0.08,-0.16,-0.16,-0.20,-0.25,-0.23,-0.38,-0.23,-0.28,-0.25,-0.30,-0.58,-0.34,-0.10,-0.46,-0.40,-0.44,-0.38,-0.44,-0.48,-0.64,-0.32,-0.68,-0.36,-0.44,-0.30,-0.05,-0.42,-0.74,-0.58,-0.60];
const sandyHookRun201 = [-0.60,-0.85,-1.05,-0.55,-0.35,-0.48,-0.38,-0.52,-0.12,-0.50,-0.40,-0.45,-0.45,-0.48,-0.45,-0.42,-0.05,-0.30,-0.20,-0.52,-0.78,-0.10,-0.35,-0.08,-0.40,-0.25,-0.45,-0.48,0.06,-0.48,-0.07,-0.35,-0.35,-0.35,-0.30,-0.35,-0.35,-0.32,-0.35,-0.40,-0.52,-0.30,-0.28,-0.32,-0.28,-0.35,-0.30,-0.42,-0.38,-0.40,-0.30,-0.20,-0.15,-0.10,-0.03,-0.22,-0.22,-0.28,-0.30,-0.25,-0.18,-0.05,-0.30,-0.32,-0.35,-0.30,-0.04,-0.15,-0.15,-0.20,-0.25,-0.22,-0.40,-0.22,-0.28,-0.24,-0.30,-0.62,-0.35,-0.08,-0.48,-0.40,-0.45,-0.38,-0.45,-0.50,-0.68,-0.30,-0.72,-0.35,-0.45,-0.30,0.00,-0.42,-0.72,-0.60,-0.62];

// Montauk
const montaukObs = [-0.50,-0.70,-0.82,-0.40,-0.35,-0.42,-0.55,-0.55,-0.32,-0.52,-0.42,-0.48,-0.48,-0.42,-0.52,-0.38,0.25,0.18,-0.15,-0.28,-0.50,-0.22,-0.35,-0.26,-0.40,-0.36,-0.40,-0.30,-0.25,-0.42,-0.30,-0.35,-0.35,-0.33,-0.32,-0.31,-0.30,-0.29,-0.28,-0.27,-0.20,-0.03,-0.30,-0.25,-0.30,-0.25,-0.20,-0.28,-0.30,-0.40,-0.30,-0.22,-0.25,-0.25,-0.25,-0.28,-0.26,-0.24,-0.20,-0.22,-0.25,-0.15,-0.28,-0.30,-0.30,-0.25,-0.15,-0.20,-0.20,-0.13,-0.28,-0.20,-0.25,-0.20,-0.18,-0.14,-0.35,-0.45,-0.30,-0.35,-0.40,-0.40,-0.35,-0.45,-0.35,-0.30,-0.35,0.05,-0.20,-0.30,-0.35,-0.30,-0.40,-0.35,-0.25,-0.45,-0.45];
const montaukR15b = [-0.42,-0.68,-0.80,-0.40,-0.32,-0.37,-0.30,-0.45,-0.15,-0.44,-0.40,-0.44,-0.42,-0.44,-0.46,-0.40,-0.08,-0.12,-0.30,-0.34,-0.62,-0.22,-0.36,-0.22,-0.40,-0.32,-0.42,-0.38,-0.08,-0.42,-0.15,-0.38,-0.35,-0.34,-0.35,-0.38,-0.35,-0.35,-0.38,-0.40,-0.55,-0.31,-0.35,-0.31,-0.30,-0.40,-0.42,-0.43,-0.42,-0.28,-0.20,-0.22,-0.20,-0.22,-0.25,-0.27,-0.26,-0.25,-0.21,-0.23,-0.19,-0.12,-0.30,-0.35,-0.35,-0.30,-0.24,-0.24,-0.22,-0.28,-0.38,-0.30,-0.30,-0.26,-0.32,-0.30,-0.38,-0.52,-0.36,-0.32,-0.45,-0.42,-0.38,-0.48,-0.50,-0.32,-0.60,-0.18,-0.38,-0.40,-0.22,-0.30,-0.36,-0.52,-0.38,-0.65,-0.55];
const montaukRun201 = [-0.45,-0.70,-0.85,-0.42,-0.32,-0.38,-0.28,-0.45,-0.12,-0.45,-0.40,-0.45,-0.42,-0.45,-0.48,-0.40,-0.03,-0.10,-0.30,-0.35,-0.65,-0.20,-0.38,-0.20,-0.40,-0.30,-0.42,-0.38,-0.05,-0.42,-0.12,-0.38,-0.35,-0.33,-0.35,-0.38,-0.35,-0.35,-0.38,-0.40,-0.55,-0.30,-0.35,-0.30,-0.30,-0.40,-0.42,-0.44,-0.42,-0.28,-0.18,-0.22,-0.18,-0.22,-0.25,-0.26,-0.26,-0.25,-0.20,-0.22,-0.18,-0.10,-0.30,-0.35,-0.35,-0.30,-0.25,-0.25,-0.22,-0.30,-0.40,-0.30,-0.30,-0.25,-0.32,-0.30,-0.40,-0.55,-0.35,-0.30,-0.45,-0.40,-0.35,-0.48,-0.50,-0.30,-0.65,-0.15,-0.38,-0.40,-0.20,-0.30,-0.35,-0.55,-0.35,-0.70,-0.62];

// Newport
const newportObs = [-0.55,-0.55,-0.82,-0.48,-0.45,-0.38,-0.40,-0.58,-0.30,-0.50,-0.48,-0.48,-0.50,-0.44,-0.55,-0.42,-0.10,0.00,-0.40,-0.30,-0.50,-0.16,-0.22,-0.38,-0.40,-0.32,-0.36,-0.40,-0.22,-0.45,-0.30,-0.38,-0.40,-0.39,-0.38,-0.36,-0.35,-0.38,-0.36,-0.35,-0.30,-0.10,-0.34,-0.34,-0.30,-0.35,-0.27,-0.32,-0.30,-0.43,-0.36,-0.28,-0.34,-0.32,-0.35,-0.33,-0.32,-0.30,-0.22,-0.25,-0.26,-0.18,-0.28,-0.31,-0.30,-0.26,-0.14,-0.26,-0.18,-0.12,-0.26,-0.18,-0.28,-0.22,-0.30,-0.08,-0.35,-0.45,-0.32,-0.14,-0.40,-0.30,-0.42,-0.46,-0.26,-0.48,-0.35,0.02,-0.25,-0.30,-0.42,-0.36,-0.38,-0.22,-0.50,-0.30,-0.55];
const newportR15b = [-0.58,-0.28,-0.70,-0.38,-0.28,-0.33,-0.22,-0.38,-0.15,-0.34,-0.28,-0.35,-0.42,-0.38,-0.42,-0.36,-0.22,-0.15,-0.35,-0.22,-0.60,-0.16,-0.32,-0.22,-0.34,-0.30,-0.40,-0.42,-0.10,-0.38,-0.10,-0.28,-0.32,-0.34,-0.36,-0.38,-0.38,-0.38,-0.34,-0.36,-0.52,-0.32,-0.30,-0.27,-0.28,-0.32,-0.34,-0.42,-0.38,-0.40,-0.36,-0.16,-0.16,-0.20,-0.17,-0.20,-0.23,-0.25,-0.20,-0.19,-0.20,-0.15,-0.30,-0.32,-0.30,-0.34,-0.20,-0.17,-0.19,-0.20,-0.35,-0.38,-0.36,-0.25,-0.22,-0.26,-0.28,-0.45,-0.20,-0.18,-0.45,-0.35,-0.38,-0.35,-0.46,-0.44,-0.58,-0.20,-0.48,-0.26,-0.42,-0.38,-0.18,-0.50,-0.12,-0.65,-0.55];
const newportRun201 = [-0.60,-0.40,-0.78,-0.42,-0.35,-0.42,-0.28,-0.42,-0.20,-0.36,-0.42,-0.38,-0.48,-0.43,-0.48,-0.40,-0.20,-0.20,-0.40,-0.25,-0.62,-0.18,-0.34,-0.15,-0.36,-0.35,-0.40,-0.42,-0.10,-0.40,-0.15,-0.32,-0.34,-0.36,-0.36,-0.39,-0.38,-0.40,-0.36,-0.40,-0.55,-0.32,-0.36,-0.30,-0.29,-0.32,-0.32,-0.47,-0.42,-0.43,-0.40,-0.18,-0.22,-0.20,-0.22,-0.20,-0.24,-0.27,-0.20,-0.19,-0.21,-0.14,-0.33,-0.35,-0.33,-0.37,-0.22,-0.22,-0.19,-0.22,-0.38,-0.40,-0.42,-0.27,-0.33,-0.36,-0.30,-0.50,-0.25,-0.18,-0.52,-0.40,-0.42,-0.38,-0.50,-0.45,-0.60,-0.15,-0.55,-0.32,-0.46,-0.40,-0.18,-0.55,-0.20,-0.68,-0.58];

// panel order, left to right, top to bottom
const stationTitles = [
  'station:Fort_Pulaski(8670870) (datum:xGEOID)',
  'station:Charleston(8665530) (datum:xGEOID)',
  'station:Oyster_Landing(8662245) (datum:xGEOID)',
  'station:Springmaid_Pier(8661070) (datum:xGEOID)',
  'station:Wrightsville_Beach(8658163) (datum:xGEOID)',
  'station:Beaufort(8656483) (datum:xGEOID)',
  'station:USGS_Station_Hatteras(8654467) (datum:xGEOID)',
  'station:Oregon_Inlet_Marina(8652587) (datum:xGEOID)',
  'station:Duck(8651370) (datum:xGEOID)',
  'station:Cape_Henry(8638999) (datum:xGEOID)',
  'station:Kiptopeke(8632200) (datum:xGEOID)',
  'station:Wachapreague(8631044) (datum:xGEOID)',
  'station:Ocean_City_Inlet(8570283) (datum:xGEOID)',
  'station:Lewes(8557380) (datum:xGEOID)',
  'station:Cape_May(8536110) (datum:xGEOID)',
  'station:Atlantic_City(8534720) (datum:xGEOID)',
  'station:Sandy_Hook(8531680) (datum:xGEOID)',
  'station:Montauk(8510560) (datum:xGEOID)',
  'station:Newport(8452660) (datum:xGEOID)'
];
const obsSeries = [fortPulaskiObs, charlestonObs, oysterLandingObs, springmaidObs, wrightsvilleObs, beaufortObs, hatterasObs, oregonInletObs, duckObs, capeHenryObs, kiptopekeObs, wachapreagueObs, oceanCityObs, lewesObs, capeMayObs, atlanticCityObs, sandyHookObs, montaukObs, newportObs];
const r15bSeries = [fortPulaskiR15b, charlestonR15b, oysterLandingR15b, springmaidR15b, wrightsvilleR15b, beaufortR15b, hatterasR15b, oregonInletR15b, duckR15b, capeHenryR15b, kiptopekeR15b, wachapreagueR15b, oceanCityR15b, lewesR15b, capeMayR15b, atlanticCityR15b, sandyHookR15b, montaukR15b, newportR15b];
const run201Series = [fortPulaskiRun201, charlestonRun201, oysterLandingRun201, springmaidRun201, wrightsvilleRun201, beaufortRun201, hatterasRun201, oregonInletRun201, duckRun201, capeHenryRun201, kiptopekeRun201, wachapreagueRun201, oceanCityRun201, lewesRun201, capeMayRun201, atlanticCityRun201, sandyHookRun201, montaukRun201, newportRun201];
const yMins = [-0.851, -0.699, -0.543, -0.690, -0.684, -0.665, -0.620, -0.724, -0.948, -0.593, -1.043, -1.007, -1.122, -1.163, -1.126, -1.151, -1.155, -0.915, -0.886];
const yMaxs = [0.362, 0.299, 0.433, 0.448, 0.902, 0.613, 0.268, 0.429, 0.202, 0.550, 0.263, 0.431, 0.297, 0.396, 0.321, 0.358, 0.361, 0.337, 0.087];
const yTickSets = [
  [-0.8, -0.6, -0.4, -0.2, 0, 0.2],
  [-0.6, -0.4, -0.2, 0, 0.2],
  [-0.4, -0.2, 0, 0.2, 0.4],
  [-0.6, -0.4, -0.2, 0, 0.2, 0.4],
  [-0.6, -0.4, -0.2, 0, 0.2, 0.4, 0.6, 0.8],
  [-0.6, -0.4, -0.2, 0, 0.2, 0.4, 0.6],
  [-0.6, -0.5, -0.4, -0.3, -0.2, -0.1, 0, 0.1, 0.2],
  [-0.6, -0.4, -0.2, 0, 0.2, 0.4],
  [-0.8, -0.6, -0.4, -0.2, 0, 0.2],
  [-0.4, -0.2, 0, 0.2, 0.4],
  [-1.0, -0.8, -0.6, -0.4, -0.2, 0, 0.2],
  [-1.0, -0.8, -0.6, -0.4, -0.2, 0, 0.2, 0.4],
  [-1.0, -0.8, -0.6, -0.4, -0.2, 0, 0.2],
  [-1.0, -0.8, -0.6, -0.4, -0.2, 0, 0.2],
  [-1.0, -0.8, -0.6, -0.4, -0.2, 0, 0.2],
  [-1.0, -0.8, -0.6, -0.4, -0.2, 0, 0.2],
  [-1.0, -0.8, -0.6, -0.4, -0.2, 0, 0.2],
  [-0.8, -0.6, -0.4, -0.2, 0, 0.2],
  [-0.8, -0.6, -0.4, -0.2, 0]
];

// grid geometry, in pixels of the 5150x1950 picture
const sheetW = 5150, sheetH = 1950;
const colLeft = [79, 1362, 2646, 3930];
const rowTop = [37, 424, 811, 1198, 1585];
const plotW = 1208, plotH = 326;
const axisW = 72, titleH = 26, xAxisH = 30, padRight = 3;

// the viewport need not be 5150x1950 css px: stretch the sheet to fill it
const viewW = window.innerWidth || document.documentElement.clientWidth || sheetW;
const viewH = window.innerHeight || document.documentElement.clientHeight || sheetH;
const fitX = viewW / sheetW, fitY = viewH / sheetH;
const sheet = document.getElementById('sheet');
sheet.style.transform = 'scale(' + fitX + ',' + fitY + ')';
const drawRatio = (window.devicePixelRatio || 1) * Math.max(fitX, fitY);

Chart.defaults.font.family = "'DejaVu Sans', sans-serif";
Chart.defaults.color = '#000';

function tickLabel(v) {
  const s = Math.abs(v) < 1e-9 ? '0.0' : Number(v).toFixed(1);
  return s.replace('-', '\u2212');
}

// matplotlib-like box round the axes
const frameBox = {
  id: 'frameBox',
  afterDatasetsDraw(chart) {
    const { ctx, chartArea: a } = chart;
    ctx.save();
    ctx.strokeStyle = '#000';
    ctx.lineWidth = 1.1;
    ctx.strokeRect(a.left, a.top, a.right - a.left, a.bottom - a.top);
    ctx.restore();
  }
};

// legend drawn inside the plot, upper right
const cornerLegend = {
  id: 'cornerLegend',
  afterDraw(chart, args, opts) {
    if (!opts.show) return;
    const { ctx, chartArea: a } = chart;
    const w = 111, h = 67;
    const x0 = a.right - 10 - w, y0 = a.top + 7;
    ctx.save();
    ctx.beginPath();
    if (ctx.roundRect) ctx.roundRect(x0, y0, w, h, 3); else ctx.rect(x0, y0, w, h);
    ctx.fillStyle = 'rgba(255,255,255,0.8)';
    ctx.fill();
    ctx.strokeStyle = '#cccccc';
    ctx.lineWidth = 1;
    ctx.stroke();
    ctx.font = "13px 'DejaVu Sans'";
    ctx.textBaseline = 'middle';
    chart.data.datasets.forEach((ds, i) => {
      const y = y0 + 12 + i * 21;
      ctx.beginPath();
      ctx.setLineDash(ds.borderDash || []);
      ctx.strokeStyle = ds.borderColor;
      ctx.lineWidth = ds.borderWidth;
      ctx.moveTo(x0 + 6, y);
      ctx.lineTo(x0 + 34, y);
      ctx.stroke();
      ctx.setLineDash([]);
      ctx.fillStyle = '#000';
      ctx.fillText(ds.label, x0 + 46, y);
    });
    ctx.restore();
  }
};

function lineSet(label, values, color, width, dash, order) {
  return {
    label: label,
    data: values.map((v, i) => ({ x: dayGrid[i], y: v })),
    borderColor: color,
    backgroundColor: color,
    borderWidth: width,
    borderDash: dash,
    pointRadius: 0,
    cubicInterpolationMode: 'monotone',
    spanGaps: false,
    fill: false,
    order: order
  };
}

const tickGrid = { display: true, drawOnChartArea: false, drawTicks: true, tickLength: 5, tickColor: '#000', tickWidth: 1.1 };

function addPanel(k) {
  const col = k % 4, row = Math.floor(k / 4);
  const w = axisW + plotW + padRight, h = titleH + plotH + xAxisH;
  const cv = document.createElement('canvas');
  cv.width = w;
  cv.height = h;
  cv.style.left = (colLeft[col] - axisW) + 'px';
  cv.style.top = (rowTop[row] - titleH) + 'px';
  cv.style.width = w + 'px';
  cv.style.height = h + 'px';
  sheet.appendChild(cv);

  const datasets = [];
  if (obsSeries[k].length) datasets.push(lineSet('Obs', obsSeries[k], '#ff0000', 2, [12, 3, 2, 3], 3));
  datasets.push(lineSet('R15b_v7', r15bSeries[k], '#008000', 1, [4, 2], 2));
  datasets.push(lineSet('RUN201l', run201Series[k], '#0000ff', 1.1, [], 1));

  new Chart(cv, {
    type: 'line',
    data: { datasets: datasets },
    options: {
      responsive: false,
      animation: false,
      devicePixelRatio: drawRatio,
      layout: { padding: { left: 0, right: padRight, top: 0, bottom: 0 } },
      plugins: {
        legend: { display: false },
        tooltip: { enabled: false },
        title: {
          display: true,
          text: stationTitles[k],
          font: { size: 18, weight: 'normal' },
          color: '#000',
          padding: { top: 0, bottom: 4.4 }
        },
        cornerLegend: { show: k === 0 }
      },
      scales: {
        x: {
          type: 'linear',
          min: 1,
          max: 12.98,
          afterBuildTicks: s => { s.ticks = xTicks.map(v => ({ value: v })); },
          afterFit: s => { s.height = xAxisH; },
          ticks: { font: { size: 13 }, color: '#000', padding: 4, maxRotation: 0, autoSkip: false, callback: v => String(v) },
          grid: tickGrid,
          border: { display: false }
        },
        y: {
          type: 'linear',
          min: yMins[k],
          max: yMaxs[k],
          afterBuildTicks: s => { s.ticks = yTickSets[k].map(v => ({ value: v })); },
          afterFit: s => { s.width = axisW; },
          ticks: { font: { size: 13 }, color: '#000', padding: 6, autoSkip: false, callback: tickLabel },
          grid: tickGrid,
          border: { display: false },
          title: { display: true, text: 'Elevation (m)', font: { size: 13 }, color: '#000', padding: { top: 5, bottom: 0 } }
        }
      }
    },
    plugins: [frameBox, cornerLegend]
  });
}

for (let k = 0; k < stationTitles.length; k++) addPanel(k);
</script>
</body>
</html>
